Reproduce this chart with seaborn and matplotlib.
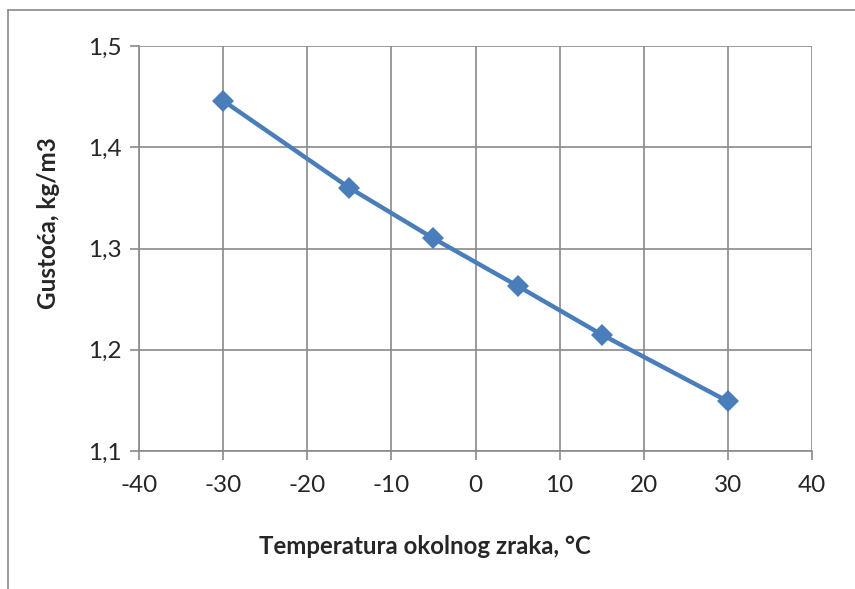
import matplotlib
matplotlib.use('Agg')
import matplotlib.pyplot as plt
import seaborn as sns
import pandas as pd
from matplotlib.lines import Line2D

# podaci ocitani s grafa
temperatura = [-30, -15, -5, 5, 15, 30]
gustoca = [1.446, 1.360, 1.310, 1.263, 1.215, 1.149]

x_ticks = [-40, -30, -20, -10, 0, 10, 20, 30, 40]
y_ticks = [1.1, 1.2, 1.3, 1.4, 1.5]
y_tick_labels = ['1,1', '1,2', '1,3', '1,4', '1,5']

df = pd.DataFrame({'temperatura': temperatura, 'gustoca': gustoca})

sns.set_style('white')
plt.rcParams['font.family'] = ['Lato', 'DejaVu Sans']

fig = plt.figure(figsize=(8.55, 5.89), dpi=100)
ax = fig.add_axes([139 / 855, 1 - 451 / 589, (812 - 139) / 855, (451 - 46) / 589])

sns.lineplot(x='temperatura', y='gustoca', data=df, ax=ax, color='#4a7ebb',
             linewidth=3.2, marker='D', markersize=11, markeredgewidth=0)

ax.set_xlim(-40, 40)
ax.set_ylim(1.1, 1.5)
ax.set_xticks(x_ticks)
ax.set_xticklabels([str(t) for t in x_ticks])
ax.set_yticks(y_ticks)
ax.set_yticklabels(y_tick_labels)

ax.grid(True, color='#8a8a8a', linewidth=1.2)
for side in ['top', 'right']:
    ax.spines[side].set_visible(False)
for side in ['left', 'bottom']:
    ax.spines[side].set_color('#8a8a8a')
    ax.spines[side].set_linewidth(1.2)

ax.tick_params(axis='x', direction='out', length=6.5, width=1.2,
               color='#8a8a8a', labelsize=17.5, pad=11, bottom=True)
ax.tick_params(axis='y', direction='out', length=6.5, width=1.2,
               color='#8a8a8a', labelsize=17.5, pad=6, left=True)

ax.set_xlabel('')
ax.set_ylabel('')

# nazivi osi kao u Excelu
fig.text(425 / 855, 1 - 547 / 589, 'Temperatura okolnog zraka, °C', fontsize=17.3,
         fontweight='bold', ha='center', va='center')
fig.text(48 / 855, 1 - 223 / 589, 'Gustoća, kg/m3', fontsize=17.5,
         fontweight='bold', ha='center', va='center', rotation=90)

# okvir grafa (djelomicno vidljiv)
fig.add_artist(Line2D([8 / 855, 1], [1 - 10 / 589, 1 - 10 / 589], color='#8a8a8a', linewidth=1.2))
fig.add_artist(Line2D([8 / 855, 8 / 855], [0, 1 - 10 / 589], color='#8a8a8a', linewidth=1.2))

plt.savefig('out.png', dpi=100)
